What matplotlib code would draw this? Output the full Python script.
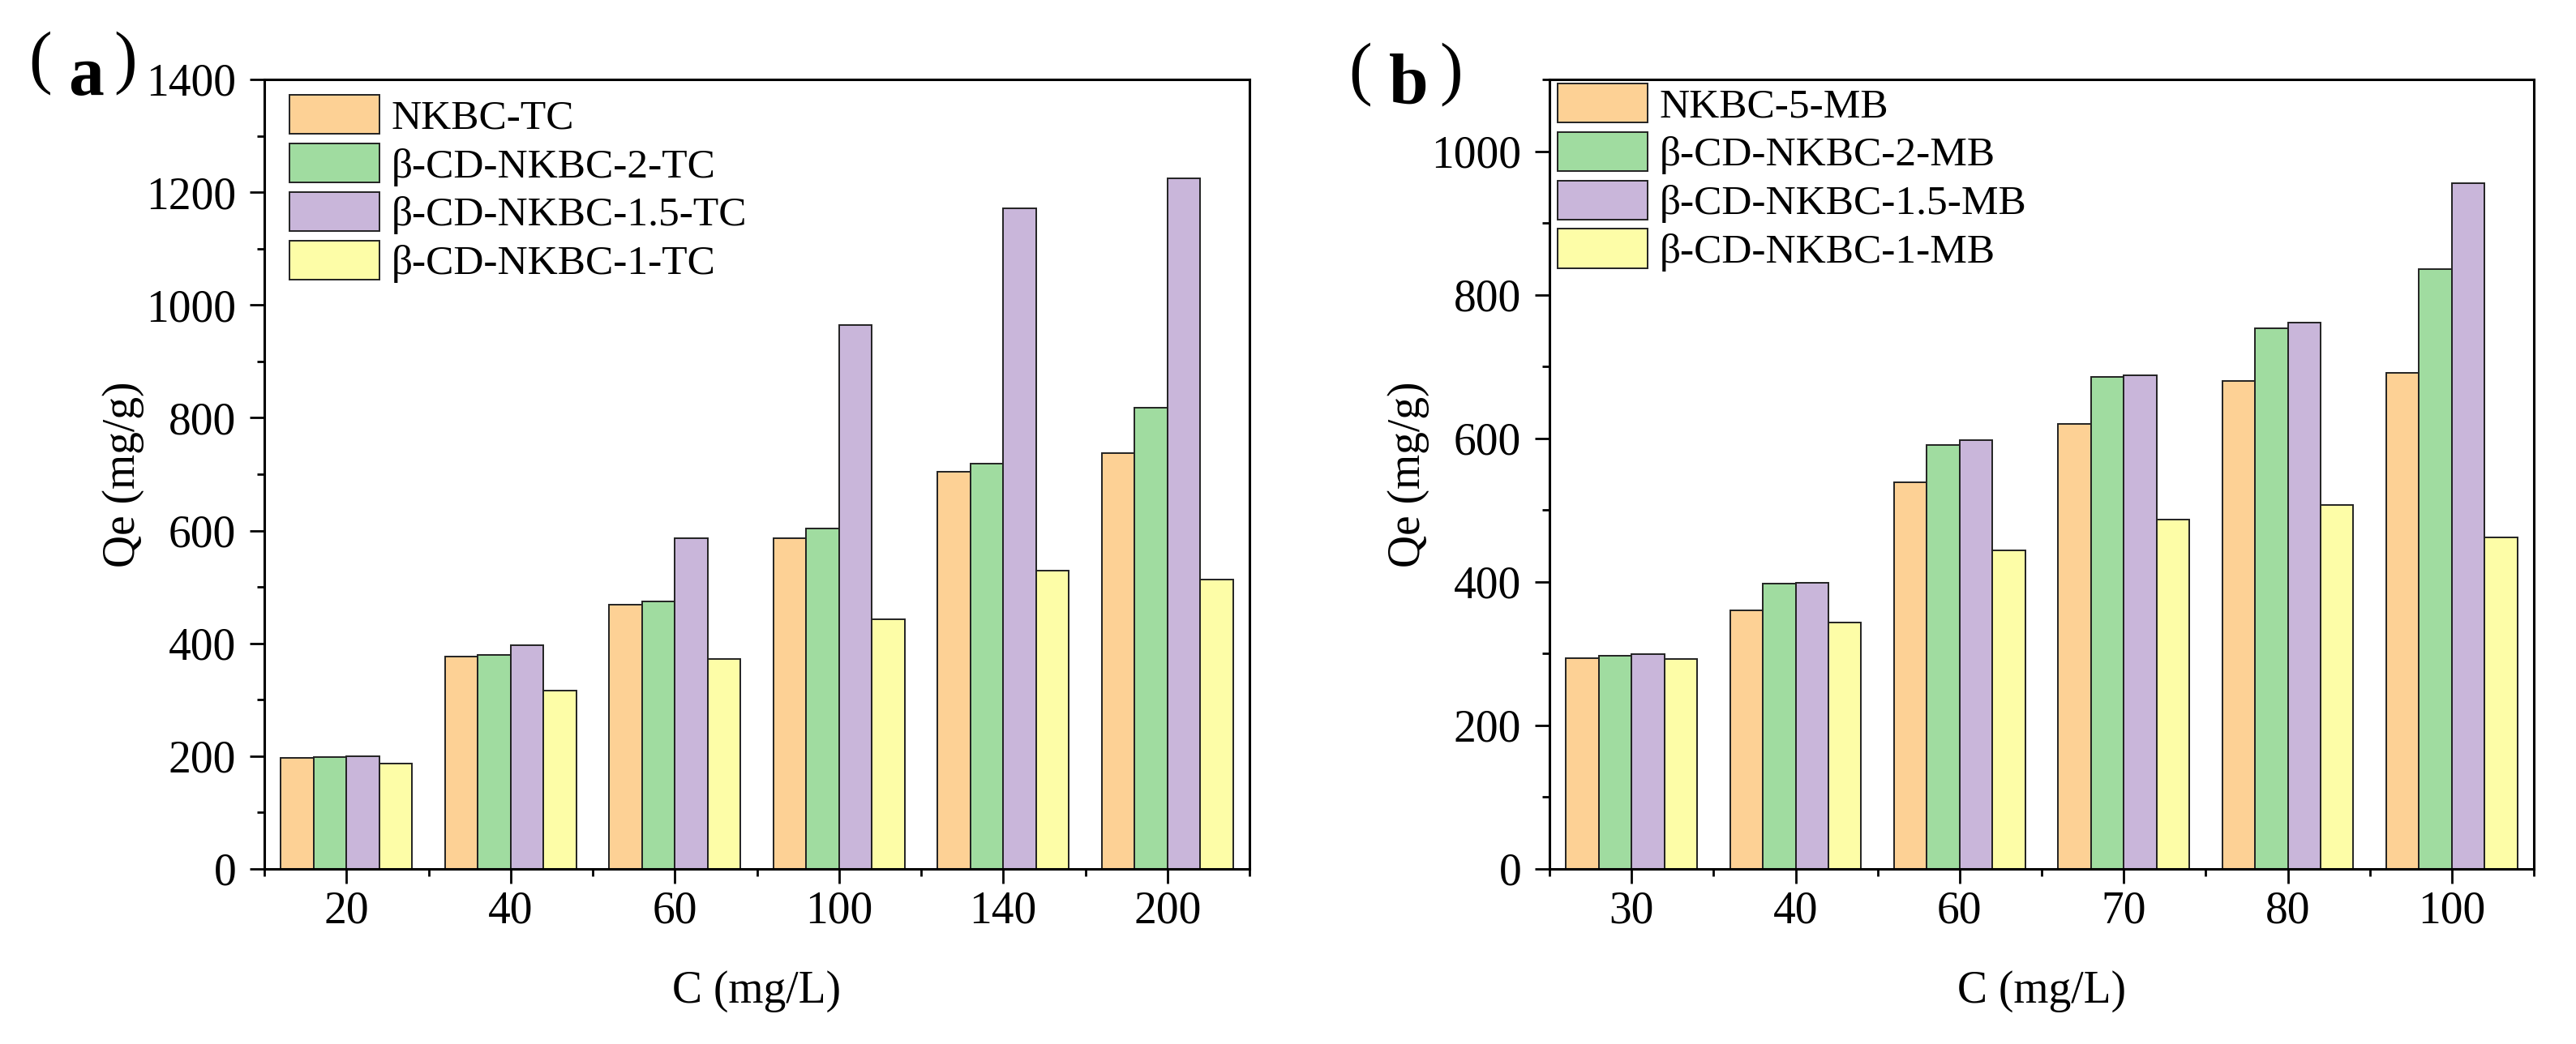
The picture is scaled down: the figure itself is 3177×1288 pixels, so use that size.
import matplotlib
matplotlib.use("Agg")
import matplotlib.pyplot as plt
import numpy as np
from matplotlib.ticker import MultipleLocator, FixedLocator

plt.rcParams['font.family'] = ['Liberation Serif', 'DejaVu Serif']

# ---------------- data ----------------
cats_a = ["20", "40", "60", "100", "140", "200"]
labels_a = ["NKBC-TC", "β-CD-NKBC-2-TC", "β-CD-NKBC-1.5-TC", "β-CD-NKBC-1-TC"]
nkbc_tc = [197, 376, 469, 586, 705, 737]
cd2_tc = [198, 380, 475, 603, 718, 818]
cd15_tc = [200, 396, 587, 964, 1172, 1224]
cd1_tc = [187, 316, 372, 442, 529, 513]

cats_b = ["30", "40", "60", "70", "80", "100"]
labels_b = ["NKBC-5-MB", "β-CD-NKBC-2-MB", "β-CD-NKBC-1.5-MB", "β-CD-NKBC-1-MB"]
nkbc_mb = [294, 360, 539, 620, 680, 691]
cd2_mb = [297, 398, 591, 686, 753, 836]
cd15_mb = [299, 399, 597, 688, 761, 955]
cd1_mb = [292, 343, 444, 487, 507, 462]

colors = ['#FDD195', '#A0DCA0', '#C9B6DA', '#FDFDA7']

W, H = 3177, 1288
fig = plt.figure(figsize=(W / 100, H / 100), dpi=100)

ax_bottom = (H - 1072) / H
ax_h = 974 / H
ax1 = fig.add_axes([326 / W, ax_bottom, 1215 / W, ax_h])
ax2 = fig.add_axes([1911 / W, ax_bottom, 1214 / W, ax_h])


def draw(ax, cats, series, labels, ymax, leg_anchor):
    x = np.arange(len(cats))
    bw = 0.2
    for i, (vals, lab) in enumerate(zip(series, labels)):
        ax.bar(x + (i - 1.5) * bw, vals, width=bw, color=colors[i],
               edgecolor='#222222', linewidth=1.4, label=lab, zorder=2)
    ax.set_xlim(-0.5, len(cats) - 0.5)
    ax.set_ylim(0, ymax)
    ax.set_xticks(x)
    ax.set_xticklabels(cats)
    ax.xaxis.set_minor_locator(FixedLocator(np.arange(-0.5, len(cats), 1.0)))
    ax.yaxis.set_major_locator(MultipleLocator(200))
    ax.yaxis.set_minor_locator(MultipleLocator(100))
    ax.tick_params(axis='both', which='major', direction='out', length=13,
                   width=2.0, labelsize=40, top=False, right=False)
    ax.tick_params(axis='both', which='minor', direction='out', length=6.5,
                   width=2.0, top=False, right=False)
    ax.tick_params(axis='x', which='major', pad=6)
    ax.tick_params(axis='y', which='major', pad=12)
    for sp in ax.spines.values():
        sp.set_linewidth(2.2)
    ax.set_xlabel("C (mg/L)", fontsize=40)
    ax.set_ylabel("Qe (mg/g)", fontsize=40)
    ax.xaxis.set_label_coords(0.5, -0.128)
    ax.yaxis.set_label_coords(-0.122, 0.5)
    ax.legend(loc='upper left', bbox_to_anchor=leg_anchor, frameon=False,
              fontsize=37, handlelength=2.16, handleheight=1.07,
              labelspacing=0.14, handletextpad=0.29, borderpad=0,
              borderaxespad=0)


draw(ax1, cats_a, [nkbc_tc, cd2_tc, cd15_tc, cd1_tc], labels_a, 1400,
     (0.0255, 0.9805))
draw(ax2, cats_b, [nkbc_mb, cd2_mb, cd15_mb, cd1_mb], labels_b, 1100,
     (0.0082, 0.995))


def panel_label(letter, xl, xc, xr, yc, ybase):
    fig.text(xl / W, 1 - yc / H, "(", ha='center', va='center',
             fontsize=62, fontweight='light')
    fig.text(xc / W, 1 - ybase / H, letter, ha='center', va='baseline',
             fontsize=63, fontweight='bold')
    fig.text(xr / W, 1 - yc / H, ")", ha='center', va='center',
             fontsize=62, fontweight='light')


panel_label("a", 50, 106, 155, 78, 117)
panel_label("b", 1678, 1737, 1790, 92, 128)

fig.savefig("out.png", dpi=100, facecolor='white')
